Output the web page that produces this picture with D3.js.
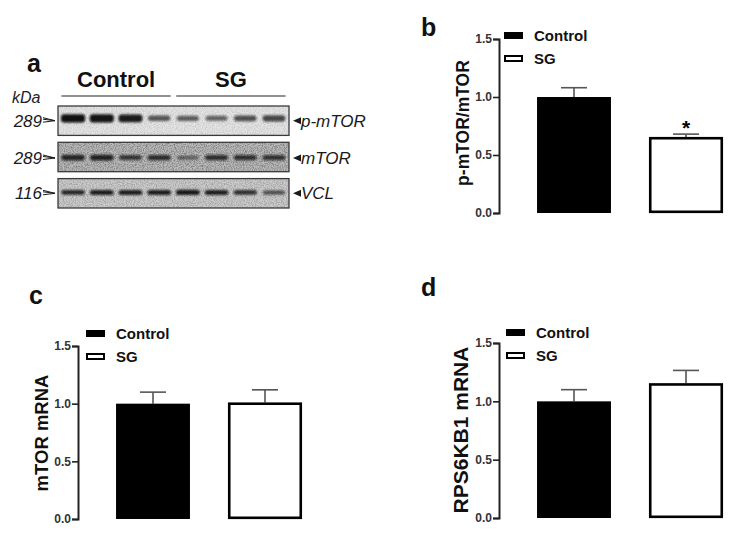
<!DOCTYPE html>
<html><head><meta charset="utf-8">
<script src="https://cdn.jsdelivr.net/npm/d3@7"></script>
<style>
html,body{margin:0;padding:0;background:#fff;}
svg{display:block;font-family:"Liberation Sans",Arial,sans-serif;}
</style></head>
<body>
<svg id="fig" width="741" height="538"></svg>
<script>
// ---------- data ----------
const groups = ["Control", "SG"];
const yTicks = [0, 0.5, 1.0, 1.5];

const pmtorRatio = [1.0, 0.655];
const pmtorRatioErr = [0.08, 0.025];
const mtorMrna = [1.0, 1.01];
const mtorMrnaErr = [0.10, 0.11];
const rps6kb1Mrna = [1.0, 1.155];
const rps6kb1MrnaErr = [0.10, 0.11];

// western blot lanes and band intensities (0..1)
const lanes = ["C1", "C2", "C3", "C4", "S1", "S2", "S3", "S4"];
const laneGroup = ["Control", "Control", "Control", "Control", "SG", "SG", "SG", "SG"];
const blotRows = ["p-mTOR", "mTOR", "VCL"];
const blotMarkers = ["289", "289", "116"];
const pmtorBands = [0.97, 0.95, 0.9, 0.5, 0.45, 0.42, 0.55, 0.6];
const mtorBands = [0.78, 0.82, 0.62, 0.72, 0.3, 0.7, 0.68, 0.65];
const vclBands = [0.8, 0.86, 0.86, 0.86, 0.9, 0.85, 0.72, 0.5];

// ---------- drawing ----------
const svg = d3.select("#fig");
const defs = svg.append("defs");
const blur = defs.append("filter").attr("id", "blur").attr("x", "-30%").attr("y", "-80%").attr("width", "160%").attr("height", "260%");
blur.append("feGaussianBlur").attr("stdDeviation", "1.2 0.9");
const noise = defs.append("filter").attr("id", "noise").attr("x", 0).attr("y", 0).attr("width", "100%").attr("height", "100%");
noise.append("feTurbulence").attr("type", "fractalNoise").attr("baseFrequency", 0.9).attr("numOctaves", 2).attr("seed", 3);
noise.append("feColorMatrix").attr("type", "matrix")
  .attr("values", "0 0 0 0 0  0 0 0 0 0  0 0 0 0 0  1 0 0 0 -0.35");

const FONT = "'Liberation Sans',Arial,sans-serif";

function panelLetter(t, x, y) {
  svg.append("text").attr("x", x).attr("y", y).text(t)
    .attr("font-size", 25).attr("font-weight", "bold").attr("fill", "#111");
}

// ---------- Panel a : blot ----------
panelLetter("a", 27, 72);
const boxX0 = 58, boxX1 = 289;
const laneX = d3.scaleBand().domain(lanes).range([boxX0 + 1, boxX1 - 1]).paddingInner(0.12).paddingOuter(0.05);
const rowY = d3.scaleBand().domain(blotRows).range([106, 208]).paddingInner(0.19);
const rowBg = ["#e6e6e6", "#bcbcbc", "#cdcdcd"];
const rowNoise = [0.3, 0.75, 0.5];
const rowBands = [pmtorBands, mtorBands, vclBands];
const bandOffset = [0.42, 0.52, 0.47];
const bandH0 = [2.5, 2.5, 2.5];
const bandH1 = [6, 4, 3];

// group headers
groups.forEach(g => {
  const ls = lanes.filter((l, i) => laneGroup[i] === g);
  const x0 = laneX(ls[0]) + 1, x1 = laneX(ls[ls.length - 1]) + laneX.bandwidth() - 1;
  svg.append("line").attr("x1", x0).attr("x2", x1).attr("y1", 96).attr("y2", 96)
    .attr("stroke", "#6d6d6d").attr("stroke-width", 1.4);
  svg.append("text").attr("x", (x0 + x1) / 2).attr("y", 87).attr("text-anchor", "middle")
    .attr("font-size", 22).attr("font-weight", "bold").attr("fill", "#111").text(g);
});
svg.append("text").attr("x", 12).attr("y", 103).attr("font-size", 16).attr("font-style", "italic")
  .attr("fill", "#222").text("kDa");

blotRows.forEach((r, ri) => {
  const y0 = rowY(r), h = rowY.bandwidth();
  const g = svg.append("g");
  g.append("rect").attr("x", boxX0).attr("y", y0).attr("width", boxX1 - boxX0).attr("height", h)
    .attr("fill", rowBg[ri]);
  g.append("rect").attr("x", boxX0).attr("y", y0).attr("width", boxX1 - boxX0).attr("height", h)
    .attr("filter", "url(#noise)").attr("opacity", rowNoise[ri]);
  const cy = y0 + h * bandOffset[ri];
  g.selectAll("rect.band").data(rowBands[ri]).join("rect")
    .attr("class", "band")
    .attr("x", (d, i) => laneX(lanes[i]) + laneX.bandwidth() * (0.1 - 0.08 * d))
    .attr("width", d => laneX.bandwidth() * (0.8 + 0.16 * d))
    .attr("y", d => cy - (bandH0[ri] + bandH1[ri] * d) / 2)
    .attr("height", d => bandH0[ri] + bandH1[ri] * d)
    .attr("rx", 3)
    .attr("fill", "#0a0a0a")
    .attr("opacity", d => 0.3 + 0.7 * d)
    .attr("filter", "url(#blur)");
  g.append("rect").attr("x", boxX0).attr("y", y0).attr("width", boxX1 - boxX0).attr("height", h)
    .attr("fill", "none").attr("stroke", "#3a3a3a").attr("stroke-width", 1.3);
  const my = y0 + h / 2 + (ri === 1 ? 1 : 0);
  // left MW marker
  svg.append("text").attr("x", 42).attr("y", my + 6).attr("text-anchor", "end")
    .attr("font-size", 17).attr("font-style", "italic").attr("fill", "#1a1a1a").text(blotMarkers[ri]);
  svg.append("path").attr("d", `M43,${my - 1.5} L55,${my} L43,${my + 1.5} M43,${my-3} L55,${my}`)
    .attr("fill", "none").attr("stroke", "#1a1a1a").attr("stroke-width", 1);
  // right label
  svg.append("path").attr("d", `M${boxX1 + 4},${my} L${boxX1 + 12},${my - 3.5} L${boxX1 + 12},${my + 3.5} Z`)
    .attr("fill", "#1a1a1a");
  svg.append("text").attr("x", boxX1 + 12).attr("y", my + 6)
    .attr("font-size", 17).attr("font-style", "italic").attr("fill", "#1a1a1a").text(r);
});

// ---------- bar panels ----------
function barPanel(opt) {
  const { axisX, y0px, y15px, values, errs, label, labelX, labelY, labelSize, legX, legY, star } = opt;
  const y = d3.scaleLinear().domain([0, 1.5]).range([y0px, y15px]);
  const x = d3.scaleBand().domain(groups).range([axisX + 19, axisX + 243]).paddingInner(0.34).paddingOuter(0.17);
  const g = svg.append("g");
  const ax = g.append("g").attr("transform", `translate(${axisX},0)`)
    .call(d3.axisLeft(y).tickValues(yTicks).tickFormat(d3.format(".1f")).tickSize(6).tickPadding(1));
  ax.select(".domain").attr("stroke", "#222").attr("stroke-width", 2);
  ax.selectAll(".tick line").attr("stroke", "#222").attr("stroke-width", 1.6);
  ax.selectAll(".tick text").attr("font-size", 12).attr("font-weight", "bold").attr("fill", "#333")
    .attr("font-family", FONT);
  // error bars
  groups.forEach((grp, i) => {
    const cx = x(grp) + x.bandwidth() / 2;
    g.append("line").attr("x1", cx).attr("x2", cx).attr("y1", y(values[i])).attr("y2", y(values[i] + errs[i]))
      .attr("stroke", "#555").attr("stroke-width", 1.6);
    g.append("line").attr("x1", cx - 13).attr("x2", cx + 13).attr("y1", y(values[i] + errs[i])).attr("y2", y(values[i] + errs[i]))
      .attr("stroke", "#555").attr("stroke-width", 1.6);
  });
  // bars
  g.selectAll("rect.bar").data(values).join("rect")
    .attr("x", (d, i) => x(groups[i]) + (i ? 1.2 : 0))
    .attr("y", (d, i) => y(d) + (i ? 1.2 : 0))
    .attr("width", (d, i) => x.bandwidth() - (i ? 2.4 : 0))
    .attr("height", (d, i) => y0px - y(d) - (i ? 2.4 : 0))
    .attr("fill", (d, i) => i ? "#fff" : "#000")
    .attr("stroke", (d, i) => i ? "#000" : "none")
    .attr("stroke-width", 2.6);
  if (star) {
    const cx = x(groups[1]) + x.bandwidth() / 2;
    g.append("text").attr("x", cx).attr("y", y(values[1] + errs[1]) + 1).attr("text-anchor", "middle")
      .attr("font-size", 21).attr("font-weight", "bold").text("*");
  }
  // y label
  g.append("text").attr("transform", `translate(${labelX},${labelY}) rotate(-90)`)
    .attr("text-anchor", "middle").attr("font-size", labelSize).attr("font-weight", "bold").attr("fill", "#111")
    .text(label);
  // legend
  groups.forEach((grp, i) => {
    const ly = legY + i * 23;
    g.append("rect").attr("x", legX + (i ? 1 : 0)).attr("y", ly + (i ? 1 : 0))
      .attr("width", 19 - (i ? 2 : 0)).attr("height", 7 - (i ? 2 : 0))
      .attr("fill", i ? "#fff" : "#000").attr("stroke", i ? "#000" : "none").attr("stroke-width", 2);
    g.append("text").attr("x", legX + 30).attr("y", ly + 8.5)
      .attr("font-size", 15).attr("font-weight", "bold").attr("fill", "#111").text(grp);
  });
}

panelLetter("b", 421, 36);
barPanel({ axisX: 499, y0px: 213, y15px: 39, values: pmtorRatio, errs: pmtorRatioErr,
  label: "p-mTOR/mTOR", labelX: 469, labelY: 123, labelSize: 17.5, legX: 504, legY: 32, star: true });

panelLetter("c", 29, 304);
barPanel({ axisX: 78, y0px: 519, y15px: 346, values: mtorMrna, errs: mtorMrnaErr,
  label: "mTOR mRNA", labelX: 48, labelY: 433, labelSize: 18.5, legX: 86, legY: 330, star: false });

panelLetter("d", 421, 296);
barPanel({ axisX: 499, y0px: 518, y15px: 343, values: rps6kb1Mrna, errs: rps6kb1MrnaErr,
  label: "RPS6KB1 mRNA", labelX: 468, labelY: 430, labelSize: 21, legX: 506, legY: 329, star: false });
</script>
</body></html>
